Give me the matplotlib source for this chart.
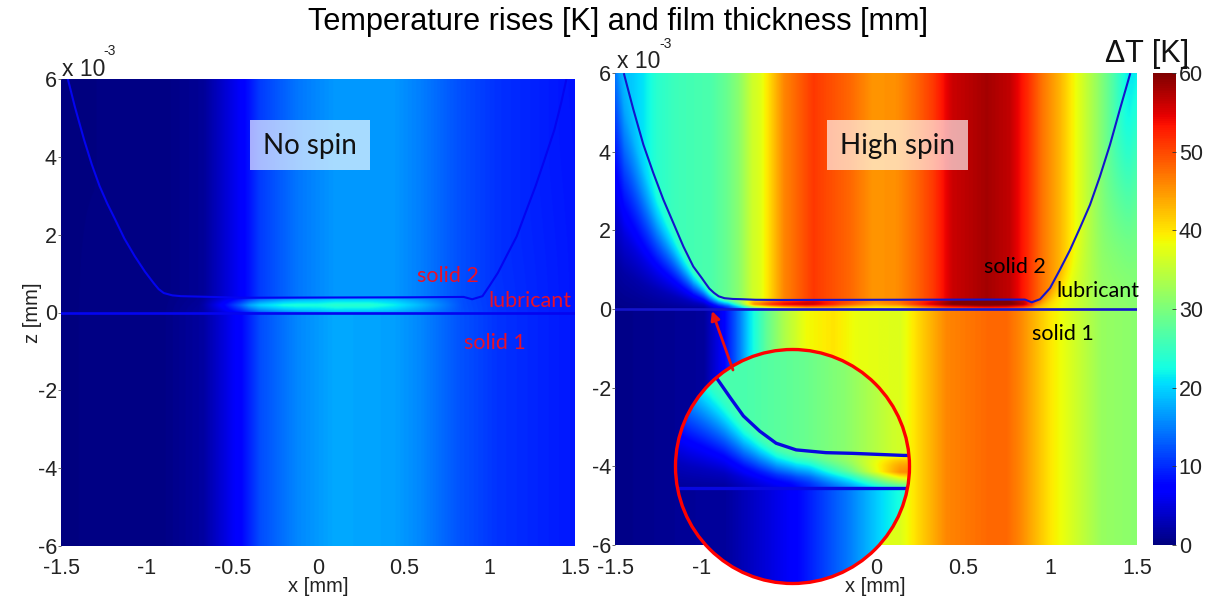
import matplotlib
matplotlib.use("Agg")
import matplotlib.pyplot as plt
from matplotlib.patches import Circle, Rectangle, FancyArrowPatch
import numpy as np

W, H = 1213, 601

# film shape, x [mm] and z [1e-3 mm]
film_x_left = [-1.46, -1.42, -1.366, -1.32, -1.275, -1.23, -1.185, -1.13, -1.07, -1.01, -0.96, -0.93, -0.9, -0.85, -0.8, -0.43, 0.53, 0.85, 0.9, 0.96, 1.0, 1.05, 1.1, 1.16, 1.21, 1.27, 1.32, 1.38, 1.42, 1.45]
film_z_left = [6.0, 5.3, 4.45, 3.8, 3.25, 2.8, 2.4, 1.9, 1.45, 1.05, 0.76, 0.6, 0.5, 0.44, 0.42, 0.38, 0.39, 0.4, 0.34, 0.42, 0.68, 1.02, 1.45, 1.96, 2.55, 3.25, 3.9, 4.7, 5.4, 6.0]
film_x_right = [-1.448, -1.395, -1.337, -1.28, -1.222, -1.165, -1.107, -1.05, -1.0, -0.98, -0.958, -0.931, -0.904, -0.871, -0.822, -0.778, -0.694, -0.54, 0.61, 0.856, 0.895, 0.943, 1.0, 1.057, 1.115, 1.172, 1.23, 1.287, 1.345, 1.402, 1.46]
film_z_right = [5.97, 5.08, 4.18, 3.46, 2.78, 2.19, 1.59, 1.08, 0.78, 0.654, 0.52, 0.41, 0.323, 0.275, 0.255, 0.25, 0.235, 0.23, 0.24, 0.24, 0.17, 0.25, 0.53, 1.0, 1.5, 2.06, 2.65, 3.37, 4.18, 5.08, 5.97]

# temperature rise read along x, solid 2 (top), solid 1 (bottom), lubricant excess
temp_x_left = [-1.5, -0.9, -0.67, -0.45, -0.34, -0.12, 0.1, 0.44, 0.6, 0.82, 1.05, 1.5]
top_left = [0.2, 0.3, 1.3, 6.7, 11, 14.5, 16.5, 16.5, 15, 12.3, 10.4, 8.5]
bot_left = [0.2, 0.4, 1.8, 7.5, 12, 15.5, 17.5, 17, 15.5, 12.5, 10.5, 8.8]
lub_x_left = [-0.7, -0.55, -0.4, -0.2, 0.0, 0.3, 0.6, 0.85]
lub_left = [0, 3, 8, 9, 7, 7, 3, 0]

temp_x_right = [-1.5, -1.4, -1.34, -1.26, -1.145, -0.95, -0.86, -0.79, -0.71, -0.67, -0.53, -0.36, -0.15, -0.015, 0.12, 0.23, 0.33, 0.44, 0.636, 0.77, 0.87, 0.96, 1.06, 1.155, 1.27, 1.36, 1.44, 1.5]
top_right = [18, 19.5, 21, 24, 25.5, 26.5, 28.5, 31, 36, 37, 46, 51, 48, 45, 45.5, 48, 51, 56, 58, 56.5, 52, 47, 43, 38, 32, 27, 22, 20]
bot_x_right = [-1.5, -0.99, -0.88, -0.782, -0.725, -0.63, -0.53, -0.4, -0.245, -0.11, 0.14, 0.25, 0.405, 0.655, 0.75, 0.83, 1.0, 1.15, 1.3, 1.5]
bot_right = [0.5, 1.5, 6.7, 15, 21, 28, 33.5, 38.5, 40, 38, 37, 41, 46, 48, 48, 46, 40, 36, 32, 31]
lub_x_right = [-0.85, -0.78, -0.7, -0.6, -0.4, -0.2, 0.0, 0.3, 0.6, 0.85, 0.92]
lub_right = [0, 6, 16, 16, 12, 6, 3, 8, 10, 8, 0]

# how far the gap has warmed up towards solid 2, by height in the gap
gap_s = [0, 0.15, 0.3, 0.5, 0.7, 0.85, 1]
gap_w = [0, 0.08, 0.22, 0.48, 0.75, 0.92, 1]

y_ticks = [-6, -4, -2, 0, 2, 4, 6]
x_ticks = [-1.5, -1, -0.5, 0, 0.5, 1, 1.5]
x_labels = ["-1.5", "-1", "-0.5", "0", "0.5", "1", "1.5"]
cbar_ticks = [0, 10, 20, 30, 40, 50, 60]

plt.rcParams['font.family'] = ['Liberation Sans', 'DejaVu Sans']
plt.rcParams['axes.unicode_minus'] = False


def makeField(xs, zs, filmX, filmZ, topX, top, botX, bot, lubX, lub):
    xx, zz = np.meshgrid(xs, zs)
    # film height, very large outside the contact ends so the gap runs off the top
    h = np.interp(xs, [-1.6] + filmX + [1.6], [12] + filmZ + [12])
    t = np.interp(xs, topX, top)
    b = np.interp(xs, botX, bot)
    l = np.interp(xs, lubX, lub, left=0, right=0)
    s = zz / h
    field = np.where(zz > h, t, b)
    inGap = (s >= 0) & (s <= 1)
    w = np.interp(s, gap_s, gap_w)
    bump = np.clip(1 - np.abs(s - 0.5) * 2, 0, 1) ** 0.7
    gap = b + w * (t - b) + bump * l
    return np.where(inGap, gap, field)


def addAxes(left, top, right, bottom):
    return fig.add_axes([left / W, 1 - bottom / H, (right - left) / W, (bottom - top) / H])


def drawPanel(ax, filmX, filmZ, topX, top, botX, bot, lubX, lub, lineColor):
    xs = np.linspace(-1.5, 1.5, 1040)
    zs = np.linspace(-6, 6, 1440)
    field = makeField(xs, zs, filmX, filmZ, topX, top, botX, bot, lubX, lub)
    im = ax.imshow(field, extent=[-1.5, 1.5, -6, 6], origin="lower", aspect="auto",
                   cmap="jet", vmin=0, vmax=60, interpolation="bilinear")
    ax.plot(filmX, filmZ, color=lineColor, lw=1.5)
    ax.axhline(0, color=lineColor, lw=1.9)
    ax.set_xlim(-1.5, 1.5)
    ax.set_ylim(-6, 6)
    ax.set_xticks(x_ticks, x_labels)
    ax.set_yticks(y_ticks)
    ax.tick_params(labelsize=15.5, length=2, width=0.6, color="#555555", labelcolor="#222222")
    ax.tick_params(axis="x", pad=9, length=0)
    ax.tick_params(axis="y", pad=1)
    for spine in ax.spines.values():
        spine.set_visible(False)
    return im


def pxText(x, y, s, **kw):
    fig.text(x / W, 1 - y / H, s, ha=kw.pop("ha", "center"), va=kw.pop("va", "center"), **kw)


def labelBox(x0, x1, s, shade):
    fig.add_artist(Rectangle((x0 / W, 1 - 170 / H), (x1 - x0) / W, 50 / H, transform=fig.transFigure,
                             facecolor=shade, edgecolor="none", alpha=0.66))
    pxText((x0 + x1) / 2, 146, s, fontsize=20, family="Lato", color="#111111", zorder=5)


fig = plt.figure(figsize=(W / 100, H / 100), dpi=100)

axLeft = addAxes(61, 79, 575, 546)
drawPanel(axLeft, film_x_left, film_z_left, temp_x_left, top_left, temp_x_left, bot_left, lub_x_left, lub_left, "#0404f0")
axRight = addAxes(615, 73, 1137, 545)
im = drawPanel(axRight, film_x_right, film_z_right, temp_x_right, top_right, bot_x_right, bot_right, lub_x_right, lub_right, "#1414cc")

# colour bar
cax = addAxes(1153, 73, 1176, 545)
cb = fig.colorbar(im, cax=cax, ticks=cbar_ticks)
cb.outline.set_visible(False)
cb.ax.tick_params(labelsize=15.5, length=3, width=0.6, direction="in", color="#333333", labelcolor="#222222", pad=2)

# zoomed circle
cx, cy, r = 792.5, 466.5, 116
axZoom = addAxes(cx - r - 1, cy - r - 1, cx + r + 1, cy + r + 1)
zoomX = (-1.07, -0.684)
zoomZ = (-0.69, 1.0)
xs = np.linspace(zoomX[0], zoomX[1], 480)
zs = np.linspace(zoomZ[0], zoomZ[1], 480)
zoomField = makeField(xs, zs, film_x_right, film_z_right, temp_x_right, top_right, bot_x_right, bot_right, lub_x_right, lub_right)
zoomIm = axZoom.imshow(zoomField, extent=[zoomX[0], zoomX[1], zoomZ[0], zoomZ[1]], origin="lower", aspect="auto",
                       cmap="jet", vmin=0, vmax=60, interpolation="bilinear")
circle = Circle((0.5, 0.5), 0.5, transform=axZoom.transAxes, facecolor="none", edgecolor="red", lw=2.4, zorder=6, clip_on=False)
axZoom.add_patch(circle)
zoomIm.set_clip_path(circle)
l1, = axZoom.plot(film_x_right, film_z_right, color="#0808e0", lw=2.4)
l2 = axZoom.axhline(0, color="#0808e0", lw=2.4)
l1.set_clip_path(circle)
l2.set_clip_path(circle)
axZoom.set_xlim(*zoomX)
axZoom.set_ylim(*zoomZ)
axZoom.axis("off")

# arrow from the circle to the inlet
fig.add_artist(FancyArrowPatch((733 / W, 1 - 370 / H), (712 / W, 1 - 311 / H), transform=fig.transFigure,
                               arrowstyle="-|>", mutation_scale=13, color="#e81010", lw=2, shrinkA=0, shrinkB=0))

labelBox(250, 370, "No spin", "white")
labelBox(827, 968, "High spin", "white")

pxText(618, 22, "Temperature rises [K] and film thickness [mm]", fontsize=22.1, color="black")
pxText(32, 313, "z [mm]", fontsize=14.5, rotation=90, color="#222222")
pxText(318, 587, "x [mm]", fontsize=14.5, color="#222222")
pxText(875, 587, "x [mm]", fontsize=14.5, color="#222222", zorder=7)
pxText(62, 69, "x 10", fontsize=16.5, ha="left", color="#222222")
pxText(110, 51, "-3", fontsize=10, color="#222222")
pxText(617, 62, "x 10", fontsize=16.5, ha="left", color="#222222")
pxText(666, 44, "-3", fontsize=10, color="#222222")
pxText(1147, 54, "\u0394T [K]", fontsize=22, color="#111111")

for x, y, s, c in [(448, 276, "solid 2", "#e8102a"), (530, 301, "lubricant", "#e8102a"), (495, 343, "solid 1", "#e8102a"),
                   (1015, 267, "solid 2", "black"), (1098, 291, "lubricant", "black"), (1063, 334, "solid 1", "black")]:
    pxText(x, y, s, fontsize=15.5, family="Lato", color=c, zorder=5)

fig.savefig("out.png", dpi=100)
